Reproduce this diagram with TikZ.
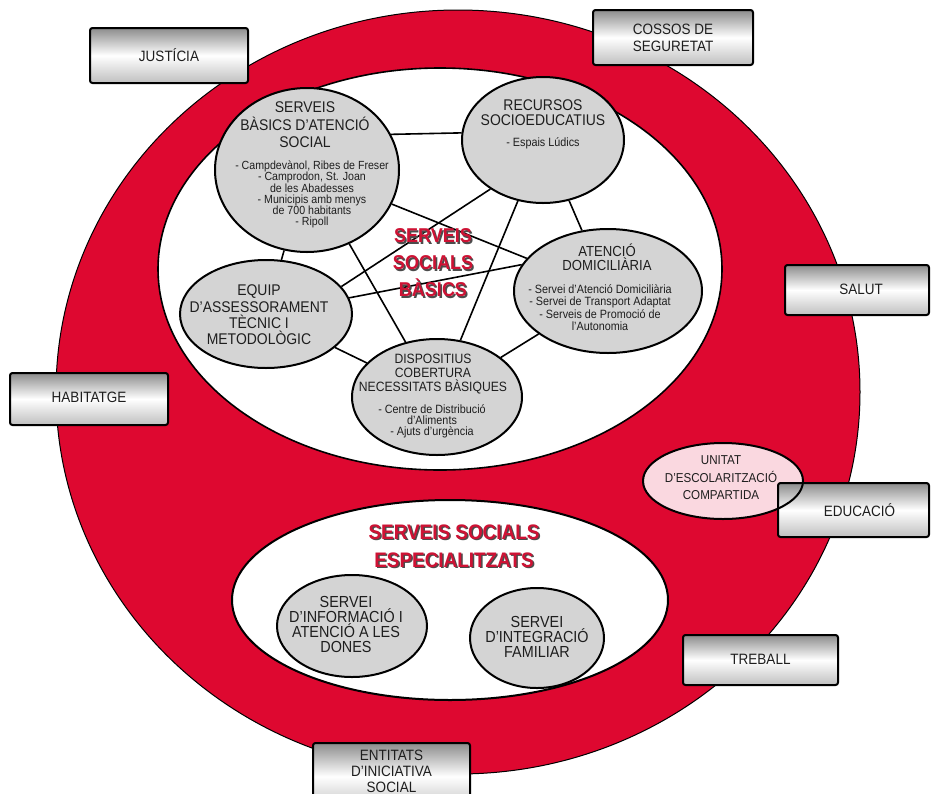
\documentclass[tikz,border=0pt]{standalone}
\usepackage{fontspec}
\setmainfont{Liberation Sans}[FakeStretch=0.9]
\usetikzlibrary{shapes.geometric}
\definecolor{bigred}{RGB}{222,8,48}
\definecolor{nodegray}{RGB}{212,212,212}
\definecolor{pinkfill}{RGB}{250,216,224}
\definecolor{txtred}{RGB}{206,18,52}
\definecolor{ink}{RGB}{30,30,30}
\newcommand{\fsz}[2]{\fontsize{#1}{#2}\selectfont\lineskiplimit=-20pt\relax}
\begin{document}
\begin{tikzpicture}[x=1pt,y=-1pt,
  gnode/.style={ellipse, draw=black, line width=2pt, fill=nodegray, inner sep=0pt},
  region/.style={ellipse, draw=black, inner sep=0pt},
  box/.style={draw=black, line width=2pt, rounded corners=2.5pt, top color=black!45, bottom color=black!25, middle color=white, text=ink, align=center, inner sep=0pt, font=\fsz{15}{17}},
  txt/.style={align=center, text=ink, inner sep=0pt},
  link/.style={draw=black, line width=1.6pt},
  bigtitle/.style={align=center, inner sep=0pt}]
\useasboundingbox (0,0) rectangle (932,793);
\fill[white] (0,0) rectangle (932,793);
\clip (0,0) rectangle (932,793);

% regions
\node[region, fill=bigred, line width=1pt, minimum width=804pt, minimum height=764pt] (ring) at (458,392) {};
\node[region, fill=white, line width=1.6pt, minimum width=564pt, minimum height=402pt] (upper) at (440,269) {};
\node[region, fill=white, line width=2pt, minimum width=436pt, minimum height=200pt] (lower) at (450,600) {};

% gray nodes
\node[gnode, minimum width=184pt, minimum height=164pt] (bas) at (307,170) {};
\node[gnode, minimum width=162pt, minimum height=126pt] (rec) at (543,140) {};
\node[gnode, minimum width=172pt, minimum height=108pt] (equ) at (266,314) {};
\node[gnode, minimum width=188pt, minimum height=124pt] (ate) at (608,291) {};
\node[gnode, minimum width=170pt, minimum height=116pt] (dis) at (437,397) {};
\node[gnode, minimum width=150pt, minimum height=102pt] (inf) at (352,626) {};
\node[gnode, minimum width=134pt, minimum height=100pt] (int) at (537,638) {};

% connectors
\draw[link] (bas.23) -- (rec.175);
\draw[link] (bas) -- (equ);
\draw[link] (bas) -- (dis);
\draw[link] (bas) -- (ate);
\draw[link] (rec.223) -- (equ.20);
\draw[link] (rec) -- (dis);
\draw[link] (rec) -- (ate);
\draw[link] (equ.11) -- (ate.163);
\draw[link] (equ) -- (dis);
\draw[link] (ate) -- (dis);

% node texts
\node[txt, font=\fsz{15.5}{17.5}] (bast) at (305,125) {SERVEIS\\BÀSICS D’ATENCIÓ\\SOCIAL};
\node[txt, font=\fsz{11.8}{11.2}] (bass) at (312,194.5) {- Campdevànol, Ribes de Freser\\- Camprodon, St. Joan\\de les Abadesses\\- Municipis amb menys\\de 700 habitants\\- Ripoll};
\node[txt, font=\fsz{15.5}{15}] (rect) at (543,112.5) {RECURSOS\\SOCIOEDUCATIUS};
\node[txt, font=\fsz{12}{12}] (recs) at (543,143) {- Espais Lúdics};
\node[txt, font=\fsz{15.5}{16.4}] (equt) at (259,315) {EQUIP\\D’ASSESSORAMENT\\TÈCNIC I\\METODOLÒGIC};
\node[txt, font=\fsz{14.6}{14.2}] (atet) at (607,257) {ATENCIÓ\\DOMICILIÀRIA};
\node[txt, font=\fsz{12}{12.3}] (ates) at (600,307.5) {- Servei d’Atenció Domiciliària\\- Servei de Transport Adaptat\\- Serveis de Promoció de\\l’Autonomia};
\node[txt, font=\fsz{13.5}{14.3}] (dist) at (433,374) {DISPOSITIUS\\COBERTURA\\NECESSITATS BÀSIQUES};
\node[txt, font=\fsz{12}{11}] (diss) at (432,421) {- Centre de Distribució\\d’Aliments\\- Ajuts d’urgència};
\node[txt, font=\fsz{16}{15.3}] (inft) at (346,624.5) {SERVEI\\D’INFORMACIÓ I\\ATENCIÓ A LES\\DONES};
\node[txt, font=\fsz{16}{15}] (intt) at (537,636.7) {SERVEI\\D’INTEGRACIÓ\\FAMILIAR};

% titles
\node[bigtitle, text=black!70, font=\bfseries\fsz{20}{27}] (ssbsh) at (434.5,264.5) {SERVEIS\\SOCIALS\\BÀSICS};
\node[bigtitle, text=txtred, font=\bfseries\fsz{20}{27}] (ssb) at (433,263) {SERVEIS\\SOCIALS\\BÀSICS};
\node[bigtitle, text=black!70, font=\bfseries\fsz{21}{28}] (ssesh) at (455.5,547.5) {SERVEIS SOCIALS\\ESPECIALITZATS};
\node[bigtitle, text=txtred, font=\bfseries\fsz{21}{28}] (sse) at (454,546) {SERVEIS SOCIALS\\ESPECIALITZATS};

% pink node background
\node[ellipse, fill=pinkfill, inner sep=0pt, minimum width=160pt, minimum height=76pt] (pinkbg) at (723,481) {};

% boxes
\node[box, minimum width=158pt, minimum height=55pt] (jus) at (169,55.5) {\raisebox{2pt}{JUSTÍCIA}};
\node[box, minimum width=160pt, minimum height=55pt] (cos) at (673,37.5) {COSSOS DE\\SEGURETAT};
\node[box, minimum width=144pt, minimum height=50pt] (sal) at (857,290) {\hspace*{8pt}\raisebox{2pt}{SALUT}};
\node[box, minimum width=158pt, minimum height=52pt] (hab) at (89,399) {\raisebox{3pt}{HABITATGE}};
\node[box, minimum width=151pt, minimum height=54pt] (edu) at (853.5,510) {\hspace*{12pt}EDUCACIÓ};
\node[box, minimum width=155pt, minimum height=50pt] (tre) at (760.5,660) {\raisebox{1pt}{TREBALL}};
\node[box, minimum width=157pt, minimum height=67pt] (ent) at (391.5,776.5) {};
\node[txt, font=\fsz{15}{16.3}] (entt) at (391.5,771.5) {ENTITATS\\D’INICIATIVA\\SOCIAL};

% pink node outline and text
\node[ellipse, draw=black, line width=2pt, inner sep=0pt, minimum width=160pt, minimum height=76pt] (pink) at (723,481) {};
\node[txt, font=\fsz{12.9}{17.5}] (pinkt) at (721,477.7) {UNITAT\\D’ESCOLARITZACIÓ\\COMPARTIDA};
\end{tikzpicture}
\end{document}
